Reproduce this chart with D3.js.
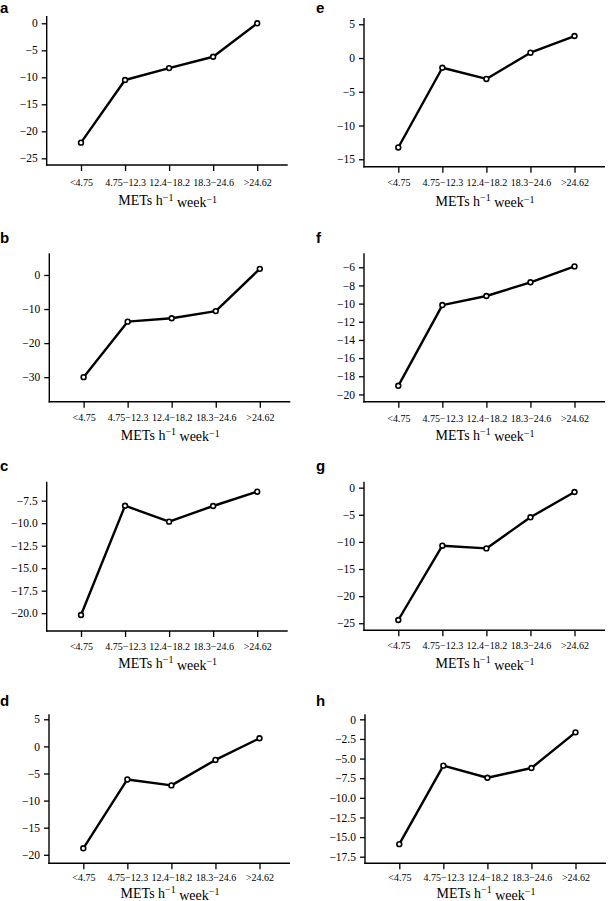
<!DOCTYPE html>
<html><head><meta charset="utf-8">
<script src="https://cdn.jsdelivr.net/npm/d3@7"></script>
<style>
html,body{margin:0;padding:0;background:#fff;}
svg{display:block;}
.serif text, text.serif{font-family:"Liberation Serif","Times New Roman",serif;}
</style></head>
<body>
<svg id="chart" width="609" height="901"></svg>
<script>
// ---------- data ----------
const categories = ["<4.75", "4.75\u221212.3", "12.4\u221218.2", "18.3\u221224.6", ">24.62"];
const panelNames = ["a", "b", "c", "d", "e", "f", "g", "h"];
const valuesA = [-22.1, -10.5, -8.3, -6.2, 0.0];
const valuesB = [-30.0, -13.7, -12.7, -10.6, 1.8];
const valuesC = [-20.2, -8.06, -9.83, -8.09, -6.5];
const valuesD = [-18.8, -6.1, -7.2, -2.5, 1.5];
const valuesE = [-13.25, -1.44, -3.1, 0.79, 3.26];
const valuesF = [-19.05, -10.16, -9.16, -7.65, -5.9];
const valuesG = [-24.4, -10.7, -11.2, -5.46, -0.8];
const valuesH = [-15.9, -5.9, -7.44, -6.2, -1.66];
const yDomains = [[-26.24, 1.35], [-37.2, 6.36], [-21.98, -5.39], [-21.57, 5.92],
                  [-16.1, 5.93], [-20.8, -4.46], [-26.3, 1.1], [-18.34, 0.64]];
const yTickValues = [
  [0, -5, -10, -15, -20, -25],
  [0, -10, -20, -30],
  [-7.5, -10, -12.5, -15, -17.5, -20],
  [5, 0, -5, -10, -15, -20],
  [5, 0, -5, -10, -15],
  [-6, -8, -10, -12, -14, -16, -18, -20],
  [0, -5, -10, -15, -20, -25],
  [0, -2.5, -5, -7.5, -10, -12.5, -15, -17.5]
];
const yTickLabels = [
  ["0", "\u22125", "\u221210", "\u221215", "\u221220", "\u221225"],
  ["0", "\u221210", "\u221220", "\u221230"],
  ["\u22127.5", "\u221210.0", "\u221212.5", "\u221215.0", "\u221217.5", "\u221220.0"],
  ["5", "0", "\u22125", "\u221210", "\u221215", "\u221220"],
  ["5", "0", "\u22125", "\u221210", "\u221215"],
  ["\u22126", "\u22128", "\u221210", "\u221212", "\u221214", "\u221216", "\u221218", "\u221220"],
  ["0", "\u22125", "\u221210", "\u221215", "\u221220", "\u221225"],
  ["0", "\u22122.5", "\u22125.0", "\u22127.5", "\u221210.0", "\u221212.5", "\u221215.0", "\u221217.5"]
];
const seriesValues = [valuesA, valuesB, valuesC, valuesD, valuesE, valuesF, valuesG, valuesH];

// ---------- layout (positions only) ----------
const layout = [
  {axisX: 46.7, top: 16,    bottom: 165,   labDy: 17.5, titDy: 35.5, lx: 0,   ly: 13},
  {axisX: 49.3, top: 253.3, bottom: 401.7, labDy: 16.0, titDy: 33.0, lx: 0,   ly: 243},
  {axisX: 46.7, top: 481.7, bottom: 631,   labDy: 15.7, titDy: 32.0, lx: 0,   ly: 471},
  {axisX: 49,   top: 714.3, bottom: 863.3, labDy: 14.4, titDy: 29.5, lx: 0,   ly: 706},
  {axisX: 364,  top: 18,    bottom: 166.7, labDy: 16.0, titDy: 34.0, lx: 316, ly: 13},
  {axisX: 364,  top: 253.3, bottom: 401.7, labDy: 16.6, titDy: 33.0, lx: 316, ly: 243},
  {axisX: 364,  top: 481.7, bottom: 630.3, labDy: 15.7, titDy: 32.5, lx: 316, ly: 471},
  {axisX: 365,  top: 714.3, bottom: 863.3, labDy: 14.4, titDy: 29.5, lx: 316, ly: 706}
];

const svg = d3.select("#chart");
const serif = '"Liberation Serif","Times New Roman",serif';

panelNames.forEach((name, i) => {
  const L = layout[i];
  const g = svg.append("g");
  const x = d3.scalePoint().domain(categories).range([L.axisX + 34.3, L.axisX + 210.5]);
  const y = d3.scaleLinear().domain(yDomains[i]).range([L.bottom, L.top]);

  // y axis
  const yAxis = d3.axisLeft(y).tickValues(yTickValues[i]).tickSize(5).tickPadding(4)
    .tickFormat((d, k) => yTickLabels[i][k]);
  const ya = g.append("g").attr("transform", `translate(${L.axisX},0)`).call(yAxis);
  ya.attr("font-family", null).attr("font-size", null).classed("serif", true);
  ya.select(".domain").remove();
  ya.selectAll(".tick line").attr("stroke", "#000").attr("stroke-width", 1.3);
  ya.selectAll(".tick text").style("font-family", serif).style("font-size", "11.5px").attr("fill", "#000");

  // x axis
  const xAxis = d3.axisBottom(x).tickSize(6).tickPadding(3);
  const xa = g.append("g").attr("transform", `translate(0,${L.bottom})`).call(xAxis);
  xa.attr("font-family", null).attr("font-size", null).classed("serif", true);
  xa.select(".domain").remove();
  xa.selectAll(".tick line").attr("stroke", "#000").attr("stroke-width", 1.3);
  xa.selectAll(".tick text").style("font-family", serif).style("font-size", "10px").attr("fill", "#000")
    .attr("y", L.labDy).attr("dy", "0.35em");

  // axis lines
  g.append("line").attr("x1", L.axisX).attr("x2", L.axisX).attr("y1", L.top).attr("y2", L.bottom + 0.7)
    .attr("stroke", "#000").attr("stroke-width", 1.4);
  g.append("line").attr("x1", L.axisX - 0.7).attr("x2", L.axisX + 241).attr("y1", L.bottom).attr("y2", L.bottom)
    .attr("stroke", "#000").attr("stroke-width", 1.4);

  // axis title
  const t = g.append("text").attr("class", "serif").attr("x", L.axisX + 121).attr("y", L.bottom + L.titDy).attr("dy", "0.35em")
    .attr("text-anchor", "middle").style("font-family", serif).style("font-size", "14px").attr("fill", "#000");
  t.append("tspan").text("METs h");
  t.append("tspan").attr("dy", "-0.45em").style("font-size", "10px").text("\u22121");
  t.append("tspan").attr("dy", "0.45em").text(" week");
  t.append("tspan").attr("dy", "-0.45em").style("font-size", "10px").text("\u22121");

  // line
  const vals = seriesValues[i];
  const line = d3.line().x((d, k) => x(categories[k])).y(d => y(d));
  g.append("path").datum(vals).attr("d", line).attr("fill", "none")
    .attr("stroke", "#000").attr("stroke-width", 2.4).attr("stroke-linejoin", "round");
  g.selectAll("circle").data(vals).join("circle")
    .attr("cx", (d, k) => x(categories[k])).attr("cy", d => y(d)).attr("r", 2.4)
    .attr("fill", "#fff").attr("stroke", "#000").attr("stroke-width", 1.6);

  // panel letter
  svg.append("text").attr("x", L.lx).attr("y", L.ly).style("font-family", '"Liberation Sans",Arial,sans-serif')
    .attr("font-weight", "bold").style("font-size", "15px").attr("fill", "#000").text(name);
});
</script>
</body></html>
